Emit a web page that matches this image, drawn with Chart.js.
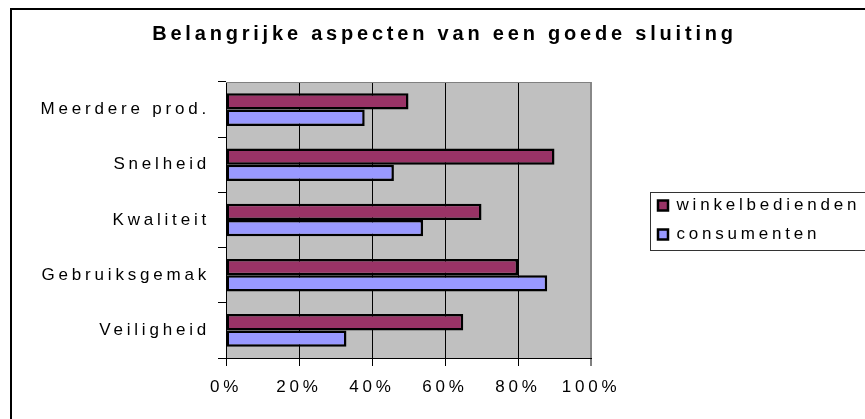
<!DOCTYPE html>
<html>
<head>
<meta charset="utf-8">
<script src="https://cdn.jsdelivr.net/npm/chart.js@4"></script>
<style>
  body { margin: 0; background: #fff; }
  canvas { display: block; }
</style>
</head>
<body>
<canvas id="sluitingChart" width="865" height="419"></canvas>
<script>
// data
const categories = ["Meerdere prod.", "Snelheid", "Kwaliteit", "Gebruiksgemak", "Veiligheid"];
const winkelbedienden = [50, 90, 70, 80, 65];
const consumenten = [38, 46, 54, 88, 33];
const seriesNames = ["winkelbedienden", "consumenten"];
const xTicks = [0, 20, 40, 60, 80, 100];

Chart.defaults.font.family = "'Liberation Sans', Arial, sans-serif";
Chart.defaults.font.size = 17;
Chart.defaults.color = "#000";

// excel-like look: wide letters, gray plot area, borders
const excelLook = {
  id: "excelLook",
  beforeLayout(chart) {
    chart.ctx.letterSpacing = "3.8px";
  },
  beforeDraw(chart) {
    const { ctx, chartArea: a } = chart;
    ctx.letterSpacing = "3.8px";
    ctx.save();
    ctx.fillStyle = "#fff";
    ctx.fillRect(0, 0, chart.width, chart.height);
    ctx.fillStyle = "#c0c0c0";
    ctx.fillRect(a.left, a.top, a.right - a.left, a.bottom - a.top);
    ctx.restore();
  },
  afterDraw(chart) {
    const { ctx, chartArea: a, legend } = chart;
    ctx.save();
    // top edge of plot area
    ctx.strokeStyle = "#808080";
    ctx.lineWidth = 1;
    ctx.beginPath();
    ctx.moveTo(a.left, a.top + 0.5);
    ctx.lineTo(a.right, a.top + 0.5);
    ctx.stroke();
    // legend frame
    const hb = legend.legendHitBoxes;
    if (hb && hb.length) {
      const top = hb[0].top - 5;
      const bottom = hb[hb.length - 1].top + hb[hb.length - 1].height + 7;
      ctx.strokeStyle = "#333";
      ctx.strokeRect(legend.left + 4.5, Math.round(top) + 0.5, 400, Math.round(bottom - top));
    }
    // outer chart frame
    ctx.strokeStyle = "#000";
    ctx.lineWidth = 2;
    ctx.strokeRect(11, 9, 1000, 1000);
    ctx.restore();
  },
};

new Chart(document.getElementById("sluitingChart"), {
  type: "bar",
  data: {
    labels: categories,
    datasets: [
      {
        label: seriesNames[0],
        data: winkelbedienden,
        backgroundColor: "#993366",
        borderColor: "#000",
        borderWidth: 2.5,
        borderSkipped: false,
      },
      {
        label: seriesNames[1],
        data: consumenten,
        backgroundColor: "#9999ff",
        borderColor: "#000",
        borderWidth: 2.5,
        borderSkipped: false,
      },
    ],
  },
  options: {
    indexAxis: "y",
    responsive: false,
    animation: false,
    categoryPercentage: 0.59,
    barPercentage: 1,
    layout: { padding: { left: 24, right: 0, top: 0, bottom: 0 } },
    scales: {
      x: {
        min: 0,
        max: 100,
        afterBuildTicks: (s) => {
          s.ticks = xTicks.map((v) => ({ value: v }));
        },
        afterFit: (s) => {
          s.height = 61;
        },
        ticks: { padding: 11, callback: (v) => v + "%", maxRotation: 0 },
        grid: {
          color: (c) => (c.tick && c.tick.value === 100 ? "#888" : "#000"),
          lineWidth: (c) => (c.tick && c.tick.value === 100 ? 2 : 1),
          tickColor: "#000",
          tickWidth: 1,
          tickLength: 8,
        },
        border: { color: "#000", width: 1 },
      },
      y: {
        afterFit: (s) => {
          s.width = 202;
        },
        ticks: { padding: 8 },
        grid: {
          drawOnChartArea: false,
          color: "#000",
          tickLength: 8,
        },
        border: { color: "#000", width: 1 },
      },
      gap: {
        type: "linear",
        axis: "y",
        position: "right",
        grid: { display: false },
        ticks: { display: false },
        border: { display: false },
        afterFit: (s) => {
          s.width = 55;
        },
      },
    },
    plugins: {
      title: {
        display: true,
        text: "Belangrijke aspecten van een goede sluiting",
        font: { size: 20, weight: "bold" },
        color: "#000",
        padding: { top: 22, bottom: 36 },
      },
      legend: {
        position: "right",
        fullSize: false,
        maxWidth: 219,
        labels: {
          boxWidth: 10,
          boxHeight: 10,
          padding: 12,
          color: "#000",
          font: { size: 17 },
        },
      },
      tooltip: { enabled: false },
    },
  },
  plugins: [excelLook],
});
</script>
</body>
</html>
